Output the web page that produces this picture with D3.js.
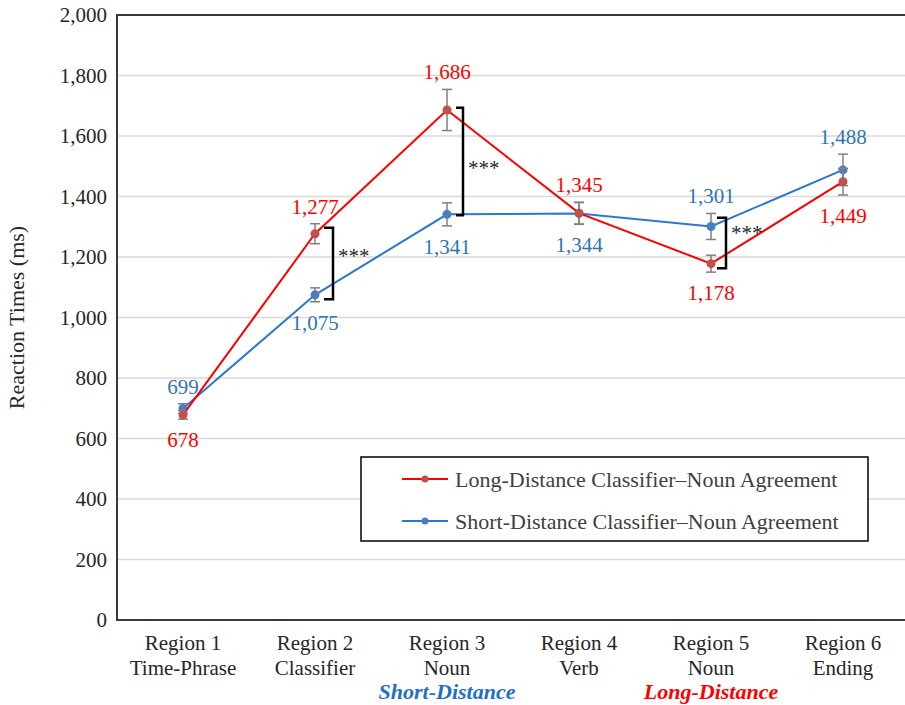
<!DOCTYPE html>
<html>
  <head>
    <meta charset="utf-8">
    <title>Reaction Times</title>
    <script src="https://d3js.org/d3.v7.min.js"></script>
  </head>
  <body style="margin:0; background:#fff">
    <svg width="905" height="705"></svg>

    <script>
      // data
      const regions = ["Region 1", "Region 2", "Region 3", "Region 4", "Region 5", "Region 6"];
      const subLabels = ["Time-Phrase", "Classifier", "Noun", "Verb", "Noun", "Ending"];
      const longRT = [678, 1277, 1686, 1345, 1178, 1449];
      const shortRT = [699, 1075, 1341, 1344, 1301, 1488];
      const longErr = [14, 33, 68, 36, 28, 44];
      const shortErr = [16, 23, 38, 36, 43, 52];
      // label above (-1) or below (+1) the point
      const longLabelSide = [1, -1, -1, -1, 1, 1];
      const shortLabelSide = [-1, 1, 1, 1, -1, -1];
      const yTicks = [0, 200, 400, 600, 800, 1000, 1200, 1400, 1600, 1800, 2000];
      // significance brackets: region index, top value, bottom value, star level
      const brackets = [
        { i: 1, top: 1297, bottom: 1060, stars: 1180 },
        { i: 2, top: 1693, bottom: 1338, stars: 1471 },
        { i: 4, top: 1330, bottom: 1163, stars: 1256 }
      ];
      const bracketOffsets = [[9, 18], [9, 16], [6, 15]];

      const FONT = "'Liberation Serif'";

      const svg = d3.select("svg");
      const margin = { left: 117, top: 15, right: 909, bottom: 620 };

      const x = d3.scaleBand()
        .domain(regions)
        .range([margin.left, margin.right]);

      const y = d3.scaleLinear()
        .domain([0, 2000])
        .range([margin.bottom, margin.top]);

      const cx = i => x(regions[i]) + x.bandwidth() / 2;

      // small helper so every label gets the serif face
      function label(parent, px, py, str, size, color) {
        return parent.append("text")
          .attr("x", px).attr("y", py)
          .style("font-family", FONT)
          .style("font-size", size + "px")
          .attr("fill", color)
          .text(str);
      }

      // gridlines
      svg.append("g")
        .selectAll("line")
        .data(yTicks.slice(1))
        .enter()
        .append("line")
          .attr("x1", margin.left)
          .attr("x2", margin.right)
          .attr("y1", d => y(d))
          .attr("y2", d => y(d))
          .attr("stroke", "#d9d9d9")
          .attr("stroke-width", 1.3);

      // plot frame
      svg.append("rect")
        .attr("x", margin.left)
        .attr("y", margin.top)
        .attr("width", margin.right - margin.left)
        .attr("height", margin.bottom - margin.top)
        .attr("fill", "none")
        .attr("stroke", "#3a3a3a")
        .attr("stroke-width", 2);

      // y tick labels
      yTicks.forEach(t => {
        label(svg, 107, y(t), d3.format(",")(t), 21, "#262626")
          .attr("dy", "0.35em")
          .attr("text-anchor", "end");
      });

      label(svg, 0, 0, "Reaction Times (ms)", 22, "#262626")
        .attr("transform", "translate(24," + y(1000) + ") rotate(-90)")
        .attr("text-anchor", "middle");

      // x labels
      const xl = svg.append("g");
      regions.forEach((r, i) => {
        label(xl, cx(i), 650, r, 21, "#262626").attr("text-anchor", "middle");
        label(xl, cx(i), 675, subLabels[i], 21, "#262626").attr("text-anchor", "middle");
      });
      label(xl, cx(2), 699, "Short-Distance", 22, "#1f6fc5")
        .attr("text-anchor", "middle")
        .style("font-weight", "bold")
        .style("font-style", "italic");
      label(xl, cx(4), 699, "Long-Distance", 22, "#ff0000")
        .attr("text-anchor", "middle")
        .style("font-weight", "bold")
        .style("font-style", "italic");

      const line = d3.line()
        .x((d, i) => cx(i))
        .y(d => y(d));

      function drawSeries(vals, errs, lineColor, markerColor, labelColor, sides) {
        const g = svg.append("g");
        g.append("path")
          .datum(vals)
          .attr("d", line)
          .attr("fill", "none")
          .attr("stroke", lineColor)
          .attr("stroke-width", 2);

        // error bars
        vals.forEach((v, i) => {
          const e = errs[i];
          g.append("line")
            .attr("x1", cx(i)).attr("x2", cx(i))
            .attr("y1", y(v + e)).attr("y2", y(v - e))
            .attr("stroke", "#808080").attr("stroke-width", 1.5);
          [v + e, v - e].forEach(t => {
            g.append("line")
              .attr("x1", cx(i) - 5).attr("x2", cx(i) + 5)
              .attr("y1", y(t)).attr("y2", y(t))
              .attr("stroke", "#808080").attr("stroke-width", 1.5);
          });
        });

        g.selectAll("circle")
          .data(vals)
          .enter()
          .append("circle")
            .attr("cx", (d, i) => cx(i))
            .attr("cy", d => y(d))
            .attr("r", 4.5)
            .attr("fill", markerColor);

        // value labels sit just outside the error bar
        vals.forEach((v, i) => {
          const ly = sides[i] < 0 ? y(v + errs[i]) - 10 : y(v - errs[i]) + 28;
          label(g, cx(i), ly, d3.format(",")(v), 21, labelColor)
            .attr("text-anchor", "middle");
        });
      }

      drawSeries(shortRT, shortErr, "#2a78d0", "#4a7ec0", "#2e75b6", shortLabelSide);
      drawSeries(longRT, longErr, "#ff0000", "#c0504d", "#ff0000", longLabelSide);

      // significance brackets
      brackets.forEach((b, k) => {
        const x0 = cx(b.i) + bracketOffsets[k][0];
        const x1 = cx(b.i) + bracketOffsets[k][1];
        svg.append("path")
          .attr("d", "M" + x0 + "," + y(b.top) + "H" + x1 + "V" + y(b.bottom) + "H" + x0)
          .attr("fill", "none")
          .attr("stroke", "#000")
          .attr("stroke-width", 2.5);
        label(svg, x1 + 5, y(b.stars), "***", 21, "#262626");
      });

      // legend
      const legend = svg.append("g");
      legend.append("rect")
        .attr("x", 361).attr("y", 457)
        .attr("width", 507).attr("height", 84)
        .attr("fill", "#fff")
        .attr("stroke", "#000")
        .attr("stroke-width", 1.5);
      const legendItems = [
        { name: "Long-Distance Classifier\u2013Noun Agreement", line: "#ff0000", marker: "#c0504d" },
        { name: "Short-Distance Classifier\u2013Noun Agreement", line: "#2a78d0", marker: "#4a7ec0" }
      ];
      legendItems.forEach((d, i) => {
        const ly = 479 + i * 42;
        legend.append("line")
          .attr("x1", 402).attr("x2", 448)
          .attr("y1", ly).attr("y2", ly)
          .attr("stroke", d.line).attr("stroke-width", 2);
        legend.append("circle")
          .attr("cx", 425).attr("cy", ly).attr("r", 3.5)
          .attr("fill", d.marker);
        label(legend, 455, ly, d.name, 22, "#404040")
          .attr("dy", "0.35em");
      });
    </script>
  </body>
</html>
